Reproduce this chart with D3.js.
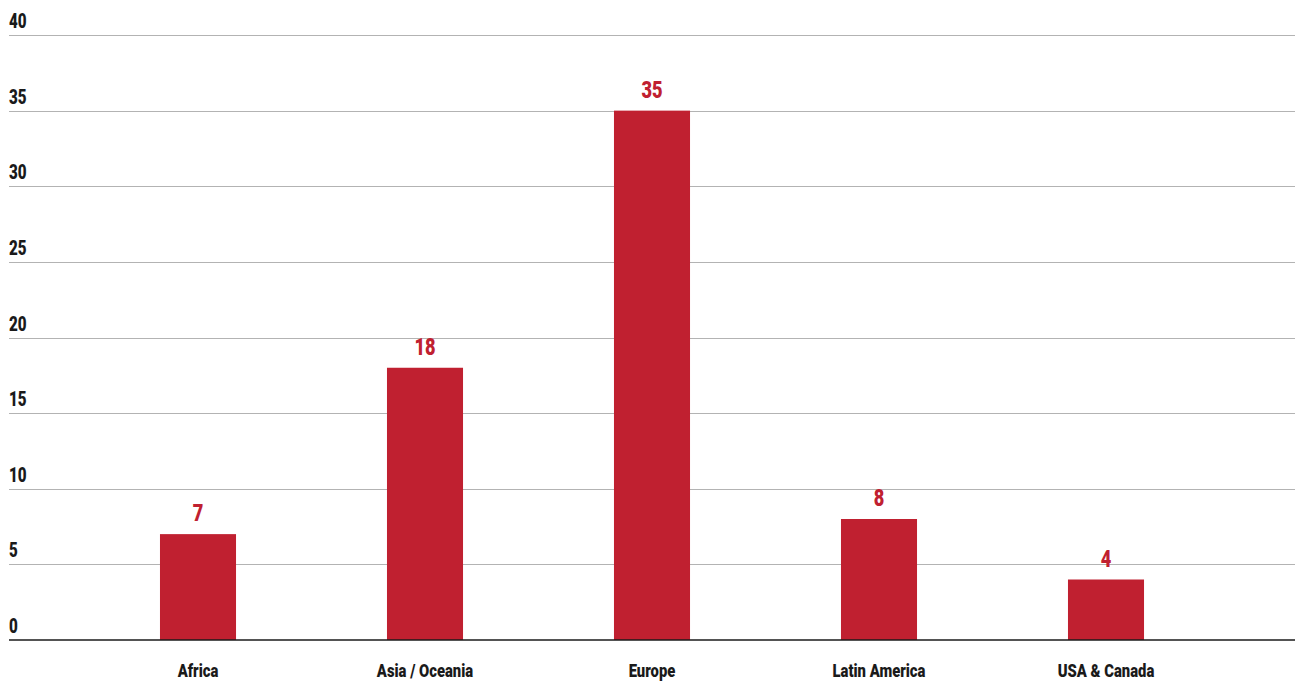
<!DOCTYPE html>
<html>
<head>
<meta charset="utf-8">
<script src="https://cdn.jsdelivr.net/npm/d3@7"></script>
<style>
  html, body { margin: 0; padding: 0; background: #fff; }
  svg { display: block; }
  text { font-family: Roboto, "Liberation Sans", sans-serif; font-weight: 900; }
</style>
</head>
<body>
<svg id="chart" width="1295" height="684"></svg>
<script>
// Regions and counts
const categories = ["Africa", "Asia / Oceania", "Europe", "Latin America", "USA & Canada"];
const values = [7, 18, 35, 8, 4];
const yTicks = [0, 5, 10, 15, 20, 25, 30, 35, 40];

(function draw() {
  const plotLeft = 9, plotRight = 1295, plotTop = 35, plotBottom = 640;
  const squeeze = 0.76;      // horizontal condensing of the bold type
  const squeezeCat = 0.8;    // category labels run slightly wider

  const svg = d3.select("#chart");

  const x = d3.scaleBand()
    .domain(categories)
    .range([84.5, 1219.5])
    .paddingInner(0.665)
    .paddingOuter(0.3325);

  const y = d3.scaleLinear().domain([0, 40]).range([plotBottom, plotTop]);

  // Horizontal gridlines
  svg.append("g")
    .selectAll("line")
    .data(yTicks.filter(d => d > 0))
    .join("line")
    .attr("x1", plotLeft).attr("x2", plotRight)
    .attr("y1", d => Math.round(y(d)) + 0.5)
    .attr("y2", d => Math.round(y(d)) + 0.5)
    .attr("stroke", "#b3b3b3")
    .attr("stroke-width", 1);

  // Y tick labels, sitting above each gridline
  svg.append("g")
    .selectAll("text")
    .data(yTicks)
    .join("text")
    .attr("transform", d => `translate(${plotLeft},${y(d) - 7}) scale(${squeeze},1)`)
    .attr("font-size", 20)
    .attr("fill", "#1a1a1a")
    .text(d => d);

  // Bars
  svg.append("g")
    .selectAll("rect")
    .data(categories)
    .join("rect")
    .attr("x", d => x(d))
    .attr("width", x.bandwidth())
    .attr("y", (d, i) => y(values[i]))
    .attr("height", (d, i) => plotBottom - y(values[i]))
    .attr("fill", "#c02030");

  // Value labels above bars
  svg.append("g")
    .selectAll("text")
    .data(categories)
    .join("text")
    .attr("transform", (d, i) => `translate(${x(d) + x.bandwidth() / 2},${y(values[i]) - 13}) scale(${squeeze},1)`)
    .attr("text-anchor", "middle")
    .attr("font-size", 24)
    .attr("fill", "#c02030")
    .text((d, i) => values[i]);

  // Baseline
  svg.append("line")
    .attr("x1", plotLeft).attr("x2", plotRight)
    .attr("y1", plotBottom).attr("y2", plotBottom)
    .attr("stroke", "#1a1a1a")
    .attr("stroke-width", 1.5);

  // Category labels
  svg.append("g")
    .selectAll("text")
    .data(categories)
    .join("text")
    .attr("transform", d => `translate(${x(d) + x.bandwidth() / 2},677) scale(${squeezeCat},1)`)
    .attr("text-anchor", "middle")
    .attr("font-size", 18.5)
    .attr("fill", "#1a1a1a")
    .text(d => d);
})();
</script>
</body>
</html>
